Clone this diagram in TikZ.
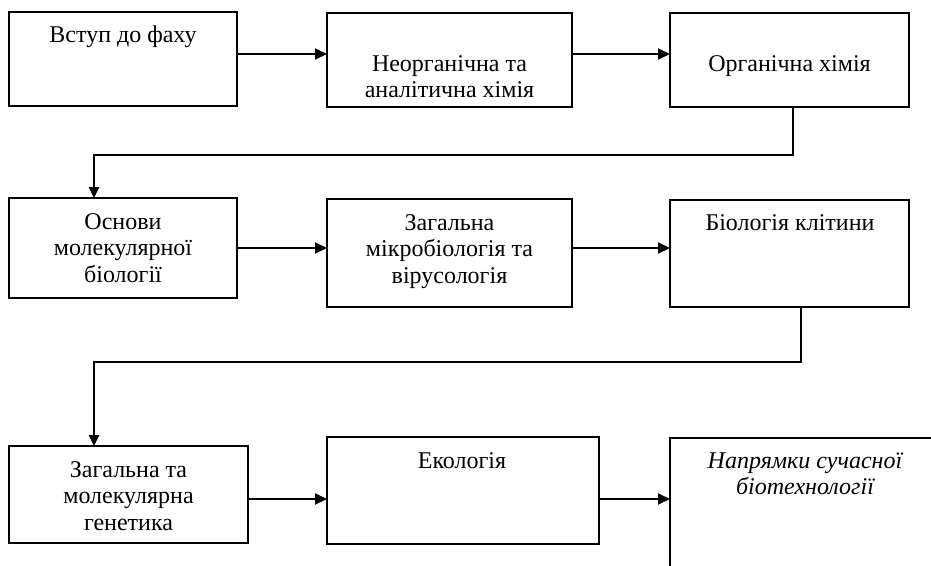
\documentclass[tikz,border=0pt]{standalone}
\usepackage{fontspec}
\setmainfont{Liberation Serif}
\usetikzlibrary{arrows.meta}
\tikzset{
  box/.style={draw, line width=1.3pt, inner sep=0pt, outer sep=0pt, rectangle},
  lbl/.style={anchor=base, inner sep=0pt, font=\fontsize{24}{26.5}\selectfont},
  flow/.style={line width=1.9pt, -{Triangle[length=12pt,width=11pt]}},
  elbow/.style={line width=1.4pt, -{Triangle[length=11pt,width=10.5pt]}}
}
\newcommand{\lines}[1]{\begin{tabular}[t]{@{}c@{}}#1\end{tabular}}
\begin{document}
\begin{tikzpicture}[x=1pt,y=-1pt]
\useasboundingbox (0,0) rectangle (931,565);
\clip (0,0) rectangle (931,565);
\fill[white] (0,0) rectangle (931,565);
% boxes
\node[box, minimum width=228pt, minimum height=94pt]  (A) at (123,59) {};
\node[box, minimum width=245pt, minimum height=94pt]  (B) at (449.5,60) {};
\node[box, minimum width=239pt, minimum height=94pt]  (C) at (789.5,60) {};
\node[box, minimum width=228pt, minimum height=100pt] (D) at (123,248) {};
\node[box, minimum width=245pt, minimum height=108pt] (E) at (449.5,253) {};
\node[box, minimum width=239pt, minimum height=107pt] (F) at (789.5,253.5) {};
\node[box, minimum width=239pt, minimum height=97pt]  (G) at (128.5,494.5) {};
\node[box, minimum width=272pt, minimum height=107pt] (H) at (463,490.5) {};
\node[box, minimum width=275pt, minimum height=142pt] (I) at (807.5,509) {};
% texts
\node[lbl] (At) at (123,42) {\lines{Вступ до фаху}};
\node[lbl] (Bt) at (449.5,71) {\lines{Неорганічна та\\аналітична хімія}};
\node[lbl] (Ct) at (789.5,71) {\lines{Органічна хімія}};
\node[lbl] (Dt) at (123,229) {\lines{Основи\\молекулярної\\біології}};
\node[lbl] (Et) at (449.5,230) {\lines{Загальна\\мікробіологія та\\вірусологія}};
\node[lbl] (Ft) at (790,230) {\lines{Біологія клітини}};
\node[lbl] (Gt) at (128.5,477) {\lines{Загальна та\\молекулярна\\генетика}};
\node[lbl] (Ht) at (462,468) {\lines{Екологія}};
\node[lbl] (It) at (805,468) {\itshape\lines{Напрямки сучасної\\біотехнології}};
% straight connectors
\draw[flow] ([yshift=5pt]A.east) -- ([yshift=5pt]A.east -| B.west);
\draw[flow] ([yshift=6pt]B.east) -- ([yshift=6pt]B.east -| C.west);
\draw[flow] (D.east) -- (D.east -| E.west);
\draw[flow] ([yshift=5pt]E.east) -- ([yshift=5pt]E.east -| F.west);
\draw[flow] ([yshift=-4.5pt]G.east) -- ([yshift=-4.5pt]G.east -| H.west);
\draw[flow] ([yshift=-8.5pt]H.east) -- ([yshift=-8.5pt]H.east -| I.west);
% row-to-row connectors
\coordinate (r1) at (0,155);
\coordinate (r2) at (0,362);
\draw[elbow] ([xshift=3.5pt]C.south) |- ([xshift=-29pt]D.north |- r1) -- ([xshift=-29pt]D.north);
\draw[elbow] ([xshift=11.5pt]F.south) |- ([xshift=-34.5pt]G.north |- r2) -- ([xshift=-34.5pt]G.north);
\end{tikzpicture}
\end{document}
